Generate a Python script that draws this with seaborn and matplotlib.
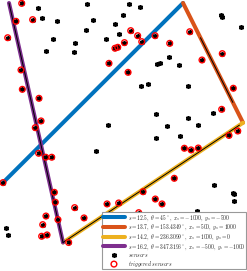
import numpy as np
import pandas as pd
import matplotlib
matplotlib.use("Agg")
import matplotlib.pyplot as plt
import seaborn as sns

# source paths: speed, heading (deg, clockwise from north), start point
speeds = [12.5, 13.7, 14.2, 16.2]
headings = [45, 153.4349, 236.3099, 347.3196]
start_x = [-1000, 500, 1000, -500]
start_y = [-500, 1000, 0, -1000]
path_colors = ["#0072BD", "#D95319", "#EDB120", "#7E2F8E"]
# part of each path drawn with a black centre line (fraction along the path)
trace_from = [np.nan, 0.29, 0.02, 0.0]
trace_to = [np.nan, 0.83, 1.0, 1.0]

# sensors that did not fire
sensor_x = [-706, -672, -550, -300, -250, -311, -581, -398, -642, -406, -142, -69,
            -36, -4, -128, 52, 144, 817, 827, 986, 286, 311, 383, 464, 152, 208,
            544, 272, 539, 747, 364, 627, 472, -228, -972, -956, 272, 758, 917,
            925, 927, 619, 327]
sensor_y = [956, 872, 852, 992, 858, 772, 702, 669, 599, 588, 697, 825,
            739, 896, -21, 989, 964, 897, 886, 797, 491, 497, 547, 485, 309, 321,
            309, 76, 42, 82, -27, -21, -108, -238, -881, -937, -130, -520, -584,
            -597, -653, -734, -773]

# triggered sensors
trig_x = [-844, -892, -753, -961, -67, -44, 12, -117, -850, -839, -700, -683,
          -731, 64, 122, 156, 267, 389, 556, 658, 827, 919, 822, 42, 956, 883,
          -703, -644, -594, -1000, -572, -564, -403, -325, -133, -36, -642, -669,
          -542, -678, -633, -453, 511, 567, 627, 427, 167, 269, 325, 131]
trig_y = [997, 847, 861, 710, 622, 630, 669, 496, 441, 279, 204, 15,
          -41, 769, 727, 677, 727, 663, 760, 524, 577, 288, 112, 421, -69, -106,
          -255, -288, -288, -500, -581, -664, -709, -795, -678, -670, -779, -851,
          -809, -948, -937, -1000, -213, -227, -211, -464, -576, -637, -678, -751]

BOX = 1000


def path_end(x0, y0, heading):
    dx = np.sin(np.radians(heading))
    dy = np.cos(np.radians(heading))
    ts = []
    for p, d in ((x0, dx), (y0, dy)):
        if abs(d) > 1e-9:
            ts.append(((BOX if d > 0 else -BOX) - p) / d)
    t = min(ts)
    return x0 + t * dx, y0 + t * dy


def fmt(v):
    s = f"{v:.4f}".rstrip("0").rstrip(".")
    return s


sns.set_theme(style="white")
plt.rcParams["mathtext.fontset"] = "cm"

fig = plt.figure(figsize=(2.47, 2.71), dpi=100)
ax = fig.add_axes([0, 0, 1, 1])

for i in range(len(speeds)):
    x1, y1 = path_end(start_x[i], start_y[i], headings[i])
    seg = pd.DataFrame({"x": [start_x[i], x1], "y": [start_y[i], y1]})
    label = (rf"$s={speeds[i]},\ \theta={fmt(headings[i])}^\circ,\ "
             rf"x_s={start_x[i]},\ y_s={start_y[i]}$")
    sns.lineplot(data=seg, x="x", y="y", sort=False, color=path_colors[i],
                 linewidth=2.9, ax=ax, label=label, zorder=2)
    if not np.isnan(trace_from[i]):
        fx = [start_x[i] + f * (x1 - start_x[i]) for f in (trace_from[i], trace_to[i])]
        fy = [start_y[i] + f * (y1 - start_y[i]) for f in (trace_from[i], trace_to[i])]
        ax.plot(fx, fy, color="black", linewidth=0.7, zorder=3)

all_x = sensor_x + trig_x
all_y = sensor_y + trig_y
ax.plot(all_x, all_y, linestyle="none", marker=(6, 2, 0), markersize=3.6,
        markeredgecolor="black", markeredgewidth=1.1, zorder=4,
        label=r"$\mathit{sensors}$")
sns.scatterplot(x=trig_x, y=trig_y, marker="o", s=17, facecolor="none",
                edgecolor="red", linewidth=1.0, ax=ax, zorder=5,
                label=r"$\mathit{triggered\ sensors}$")

ax.set_xlim(-1025, 1033)
ax.set_ylim(-1238, 1025)
ax.set_axis_off()

leg = ax.legend(loc="lower right", bbox_to_anchor=(0.997, 0.006),
                bbox_transform=fig.transFigure, fontsize=4.0, handlelength=4.0,
                handletextpad=0.5, labelspacing=0.0, borderpad=0.15,
                borderaxespad=0, fancybox=False, framealpha=1)
leg.get_frame().set_edgecolor("#999999")
leg.get_frame().set_linewidth(0.8)

fig.savefig("out.png", dpi=100)
